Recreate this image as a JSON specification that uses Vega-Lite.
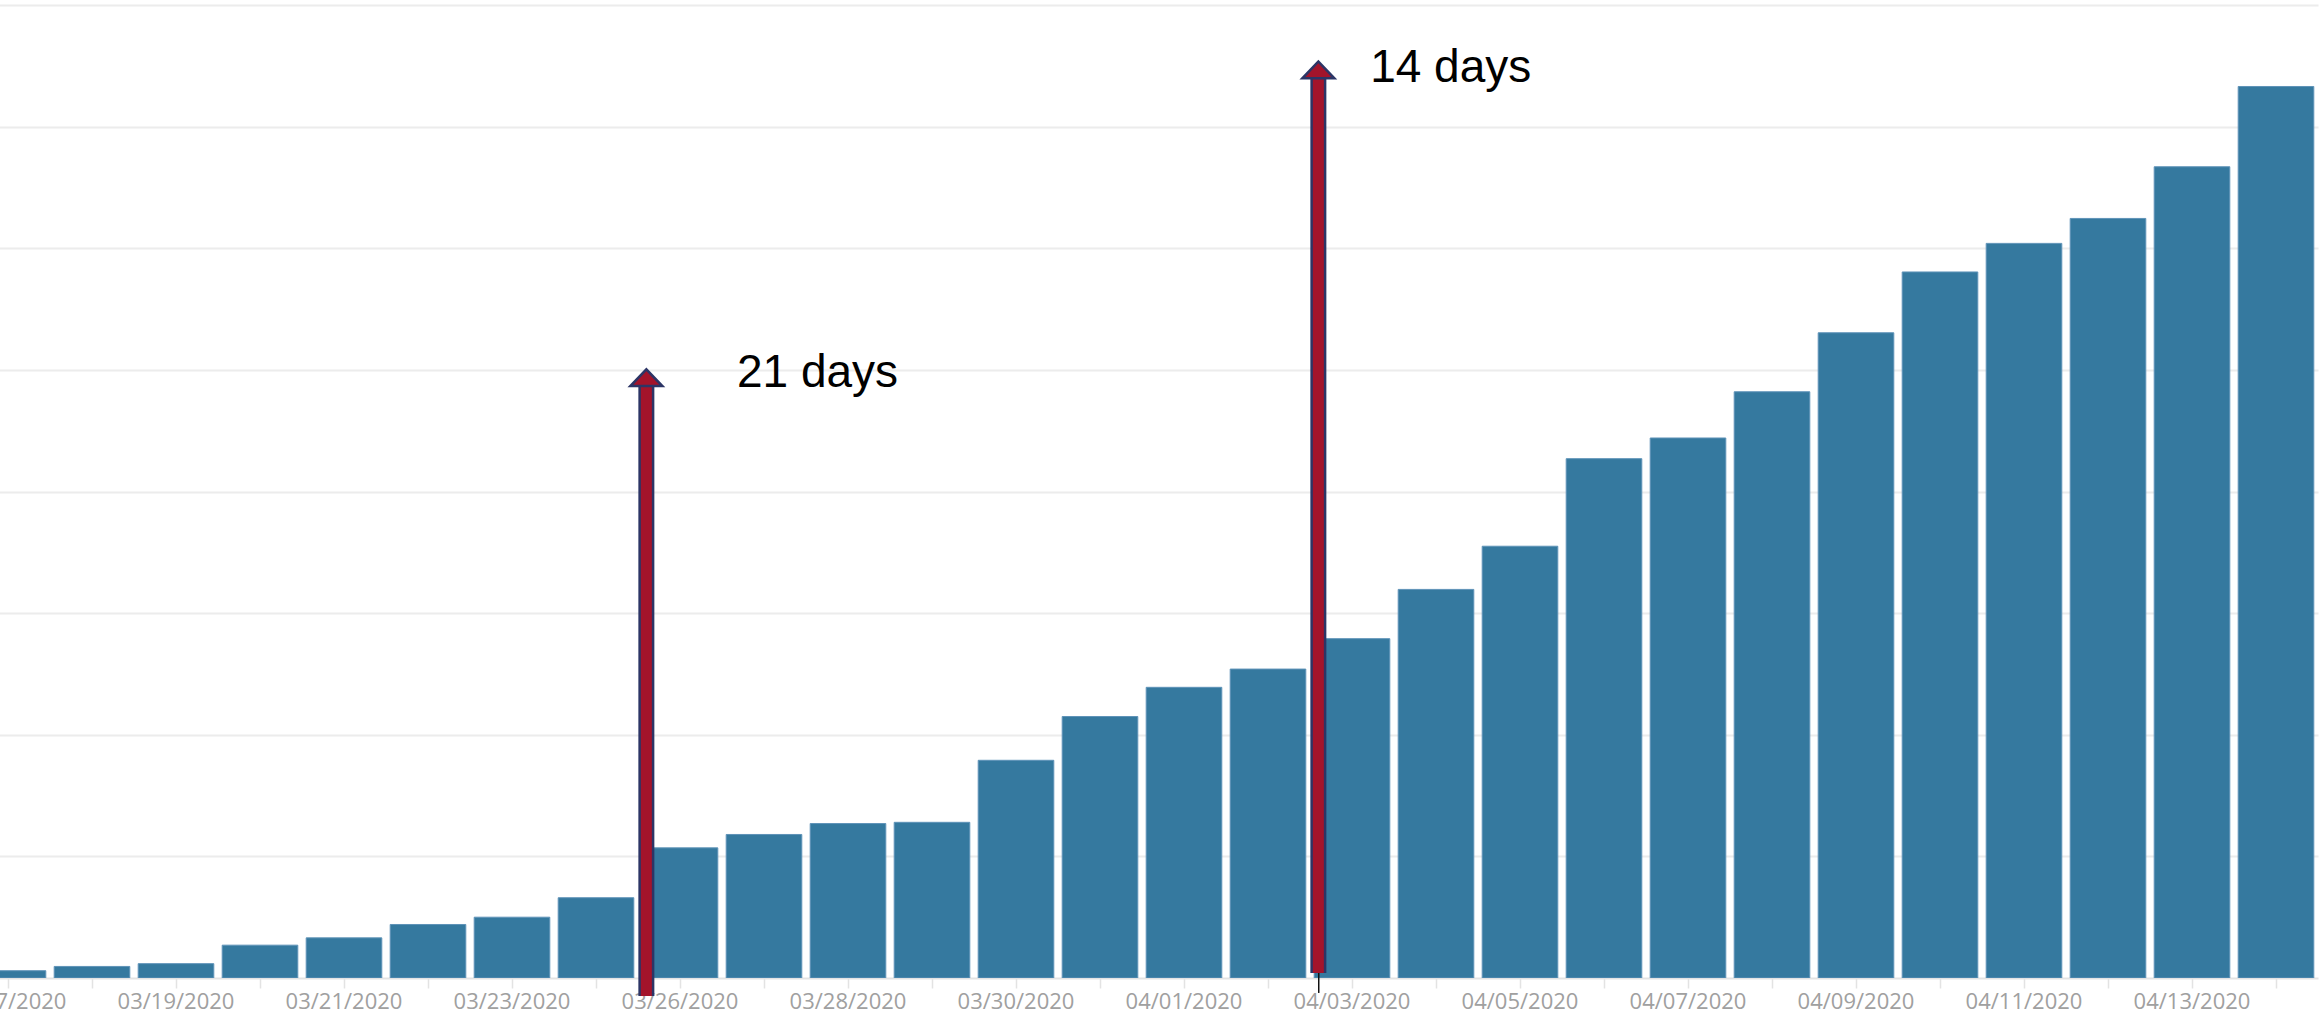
{
  "$schema": "https://vega.github.io/schema/vega-lite/v6.json",
  "autosize": {"type": "none"},
  "padding": {"left": 0, "top": 5, "right": 6, "bottom": 37},
  "width": 2318,
  "height": 973,
  "background": "white",
  "config": {"view": {"stroke": null}},
  "datasets": {
    "bars": [
      {"date": "03/17/2020", "value": 60},
      {"date": "03/18/2020", "value": 95},
      {"date": "03/19/2020", "value": 118},
      {"date": "03/20/2020", "value": 270},
      {"date": "03/21/2020", "value": 330},
      {"date": "03/22/2020", "value": 440},
      {"date": "03/23/2020", "value": 500},
      {"date": "03/24/2020", "value": 660},
      {"date": "03/26/2020", "value": 1070},
      {"date": "03/27/2020", "value": 1180},
      {"date": "03/28/2020", "value": 1270},
      {"date": "03/29/2020", "value": 1280},
      {"date": "03/30/2020", "value": 1790},
      {"date": "03/31/2020", "value": 2150},
      {"date": "04/01/2020", "value": 2390},
      {"date": "04/02/2020", "value": 2540},
      {"date": "04/03/2020", "value": 2790},
      {"date": "04/04/2020", "value": 3195},
      {"date": "04/05/2020", "value": 3550},
      {"date": "04/06/2020", "value": 4270},
      {"date": "04/07/2020", "value": 4440},
      {"date": "04/08/2020", "value": 4820},
      {"date": "04/09/2020", "value": 5305},
      {"date": "04/10/2020", "value": 5805},
      {"date": "04/11/2020", "value": 6040},
      {"date": "04/12/2020", "value": 6245},
      {"date": "04/13/2020", "value": 6670},
      {"date": "04/14/2020", "value": 7330}
    ],
    "arrows": [
      {"date": "03/26/2020", "tip": 5000, "base": 4873, "bottom": -148},
      {"date": "04/03/2020", "tip": 7527, "base": 7404, "bottom": 42}
    ]
  },
  "layer": [
    {
      "data": {"name": "bars"},
      "mark": {"type": "bar", "color": "#35799F", "clip": true, "stroke": "#5f93b8", "strokeWidth": 1},
      "encoding": {
        "x": {
          "field": "date",
          "type": "ordinal",
          "scale": {
            "domain": ["03/17/2020","03/18/2020","03/19/2020","03/20/2020","03/21/2020","03/22/2020","03/23/2020","03/24/2020","03/26/2020","03/27/2020","03/28/2020","03/29/2020","03/30/2020","03/31/2020","04/01/2020","04/02/2020","04/03/2020","04/04/2020","04/05/2020","04/06/2020","04/07/2020","04/08/2020","04/09/2020","04/10/2020","04/11/2020","04/12/2020","04/13/2020","04/14/2020"],
            "range": [-34, 2318],
            "paddingInner": 0.1,
            "paddingOuter": 0.05
          },
          "axis": {
            "title": null,
            "labelAngle": 0,
            "labelExpr": "indexof(['03/17/2020','03/19/2020','03/21/2020','03/23/2020','03/26/2020','03/28/2020','03/30/2020','04/01/2020','04/03/2020','04/05/2020','04/07/2020','04/09/2020','04/11/2020','04/13/2020'], datum.value) >= 0 ? datum.value : ''",
            "labelFont": "Segoe UI, Open Sans",
            "labelFontSize": 22,
            "labelColor": "#a0a0a0",
            "labelPadding": 3,
            "tickColor": "#e3e3e3",
            "tickSize": 10,
            "tickWidth": 1.5,
            "domainColor": "#e3e3e3",
            "domainWidth": 2,
            "grid": false
          }
        },
        "y": {
          "field": "value",
          "type": "quantitative",
          "scale": {"domain": [0, 8000], "nice": false},
          "axis": {
            "title": null,
            "labels": false,
            "ticks": false,
            "domain": false,
            "grid": true,
            "values": [1000, 2000, 3000, 4000, 5000, 6000, 7000, 8000],
            "gridColor": "#ececec",
            "gridWidth": 2
          }
        }
      }
    },
    {
      "data": {"values": [{"date": "04/03/2020", "y": 49, "y2": -123}]},
      "mark": {"type": "rule", "color": "#111111", "strokeWidth": 1.5},
      "encoding": {
        "x": {"field": "date", "type": "ordinal", "bandPosition": 0.06},
        "y": {"field": "y", "type": "quantitative"},
        "y2": {"field": "y2"}
      }
    },
    {
      "data": {"name": "arrows"},
      "mark": {"type": "rule", "color": "#2C3566", "strokeWidth": 16},
      "encoding": {
        "x": {"field": "date", "type": "ordinal", "bandPosition": 0.055},
        "y": {"field": "bottom", "type": "quantitative"},
        "y2": {"field": "base"}
      }
    },
    {
      "data": {"name": "arrows"},
      "mark": {"type": "rule", "color": "#A3142B", "strokeWidth": 11},
      "encoding": {
        "x": {"field": "date", "type": "ordinal", "bandPosition": 0.055},
        "y": {"field": "bottom", "type": "quantitative"},
        "y2": {"field": "base"}
      }
    },
    {
      "data": {"name": "arrows"},
      "mark": {"type": "point", "shape": "M-1,0.05L1,0.05L0,-1Z", "size": 1024, "filled": true, "fill": "#A3142B", "stroke": "#2C3566", "strokeWidth": 2.5, "opacity": 1, "fillOpacity": 1, "strokeOpacity": 1},
      "encoding": {
        "x": {"field": "date", "type": "ordinal", "bandPosition": 0.055},
        "y": {"field": "base", "type": "quantitative"}
      }
    },
    {
      "data": {"values": [{"date": "03/27/2020", "y": 4856, "label": "21 days"}]},
      "mark": {"type": "text", "align": "left", "baseline": "alphabetic", "font": "Liberation Sans", "fontSize": 46, "color": "#000000"},
      "encoding": {
        "x": {"field": "date", "type": "ordinal", "bandPosition": 0.143},
        "y": {"field": "y", "type": "quantitative"},
        "text": {"field": "label"}
      }
    },
    {
      "data": {"values": [{"date": "04/03/2020", "y": 7370, "label": "14 days"}]},
      "mark": {"type": "text", "align": "left", "baseline": "alphabetic", "font": "Liberation Sans", "fontSize": 46, "color": "#000000"},
      "encoding": {
        "x": {"field": "date", "type": "ordinal", "bandPosition": 0.74},
        "y": {"field": "y", "type": "quantitative"},
        "text": {"field": "label"}
      }
    }
  ]
}
